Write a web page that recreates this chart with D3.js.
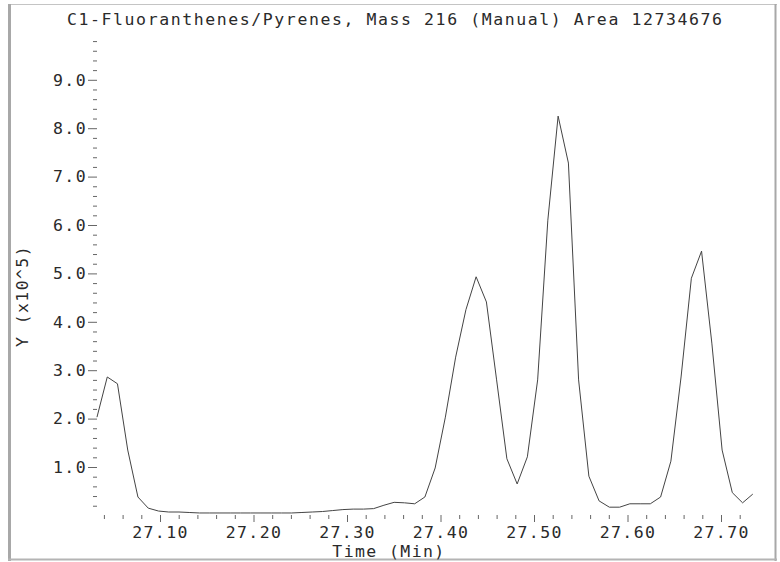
<!DOCTYPE html>
<html>
<head>
<meta charset="utf-8">
<script src="https://cdn.jsdelivr.net/npm/d3@7"></script>
<style>
  body { margin: 0; background: #fff; }
  svg text { font-family: "DejaVu Sans Mono", "Liberation Mono", monospace; fill: #2a2a2a; }
</style>
</head>
<body>
<svg id="chart" width="780" height="562"></svg>
<script>
// Scan times (min) and abundance (x10^5)
const times = [
  27.0326, 27.0436, 27.0545, 27.0655, 27.0764, 27.0874, 27.0984, 27.1093, 27.1203, 27.1312,
  27.1422, 27.1532, 27.1641, 27.1751, 27.1860, 27.1970, 27.2080, 27.2189, 27.2299, 27.2408,
  27.2518, 27.2628, 27.2737, 27.2847, 27.2956, 27.3066, 27.3176, 27.3285, 27.3395, 27.3504,
  27.3614, 27.3724, 27.3833, 27.3943, 27.4052, 27.4162, 27.4272, 27.4381, 27.4491, 27.4600,
  27.4710, 27.4820, 27.4929, 27.5039, 27.5148, 27.5258, 27.5368, 27.5477, 27.5587, 27.5696,
  27.5806, 27.5916, 27.6025, 27.6135, 27.6244, 27.6354, 27.6464, 27.6573, 27.6683, 27.6792,
  27.6902, 27.7012, 27.7121, 27.7231, 27.7340
];
const intensity = [
  2.03, 2.86, 2.72, 1.35, 0.38, 0.15, 0.09, 0.07, 0.07, 0.06,
  0.05, 0.05, 0.05, 0.05, 0.05, 0.05, 0.05, 0.05, 0.05, 0.05,
  0.06, 0.07, 0.08, 0.10, 0.12, 0.13, 0.13, 0.14, 0.21, 0.27,
  0.26, 0.24, 0.38, 0.98, 2.03, 3.27, 4.25, 4.93, 4.41, 2.80,
  1.17, 0.65, 1.21, 2.80, 6.10, 8.25, 7.28, 2.80, 0.81, 0.30,
  0.17, 0.17, 0.24, 0.24, 0.24, 0.38, 1.12, 2.86, 4.90, 5.46,
  3.56, 1.35, 0.47, 0.26, 0.44
];

const xMajorTicks = [27.10, 27.20, 27.30, 27.40, 27.50, 27.60, 27.70];
const yMajorTicks = [1, 2, 3, 4, 5, 6, 7, 8, 9];

const titleText = 'C1-Fluoranthenes/Pyrenes, Mass 216 (Manual) Area 12734676';
const xLabel = 'Time (Min)';
const yLabel = 'Y (x10^5)';

const fontSize = '16.5px';
const spacing = '1.4px';

const svg = d3.select('#chart');

// scales: 27.10 -> 160px, 27.70 -> 721px ; 0 -> 515.4px, 1.0 -> 48.4px
const x = d3.scaleLinear().domain([27.10, 27.70]).range([160, 721]);
const y = d3.scaleLinear().domain([0, 10]).range([515.4, 31.4]);

// frame
svg.append('line').attr('x1', 8).attr('x2', 777).attr('y1', 4.5).attr('y2', 4.5)
  .attr('stroke', '#c4c4c4');
svg.append('rect').attr('x', 8).attr('y', 4).attr('width', 3).attr('height', 557)
  .attr('fill', '#a8a8a8');
svg.append('line').attr('x1', 775.5).attr('x2', 775.5).attr('y1', 4).attr('y2', 561)
  .attr('stroke', '#a8a8a8').attr('stroke-width', 2);
svg.append('line').attr('x1', 8).attr('x2', 777).attr('y1', 559.5).attr('y2', 559.5)
  .attr('stroke', '#b4b4b4').attr('stroke-width', 2);

// y axis: minor ticks every 0.2, major every 1.0
const yMinor = d3.range(0.2, 9.9, 0.2).filter(v => Math.abs(v - Math.round(v)) > 1e-6);
const yMinorAxis = svg.append('g').attr('transform', 'translate(97,0)')
  .call(d3.axisLeft(y).tickValues(yMinor).tickSize(4).tickFormat(''));
const yMajorAxis = svg.append('g').attr('transform', 'translate(97,0)')
  .call(d3.axisLeft(y).tickValues(yMajorTicks).tickSize(9).tickPadding(1)
    .tickFormat(d3.format('.1f')));

// x axis: minor ticks every 0.02, major every 0.10
const xMinor = d3.range(27.04, 27.73, 0.02).filter(v => Math.abs(v * 10 - Math.round(v * 10)) > 1e-6);
const xMinorAxis = svg.append('g').attr('transform', 'translate(0,515)')
  .call(d3.axisBottom(x).tickValues(xMinor).tickSize(4).tickFormat(''));
const xMajorAxis = svg.append('g').attr('transform', 'translate(0,515)')
  .call(d3.axisBottom(x).tickValues(xMajorTicks).tickSize(7).tickPadding(4)
    .tickFormat(d3.format('.2f')));

[yMinorAxis, yMajorAxis, xMinorAxis, xMajorAxis].forEach(g => {
  g.select('.domain').remove();
  g.selectAll('.tick line').attr('stroke', '#666');
  g.selectAll('.tick text')
    .attr('fill', '#2a2a2a')
    .style('font-family', '"DejaVu Sans Mono", monospace')
    .style('font-size', fontSize)
    .style('letter-spacing', spacing);
});

// trace
const line = d3.line()
  .x((d, i) => x(times[i]))
  .y(d => y(d));

svg.append('path')
  .datum(intensity)
  .attr('d', line)
  .attr('fill', 'none')
  .attr('stroke', '#444')
  .attr('stroke-width', 1);

// title and labels
svg.append('text')
  .attr('x', 67).attr('y', 25)
  .attr('textLength', 655).attr('lengthAdjust', 'spacing')
  .style('font-size', fontSize)
  .text(titleText);

svg.append('text')
  .attr('x', 389).attr('y', 557)
  .attr('text-anchor', 'middle')
  .style('font-size', fontSize)
  .style('letter-spacing', spacing)
  .text(xLabel);

svg.append('text')
  .attr('transform', 'translate(28,296) rotate(-90)')
  .attr('text-anchor', 'middle')
  .style('font-size', fontSize)
  .style('letter-spacing', spacing)
  .text(yLabel);
</script>
</body>
</html>
